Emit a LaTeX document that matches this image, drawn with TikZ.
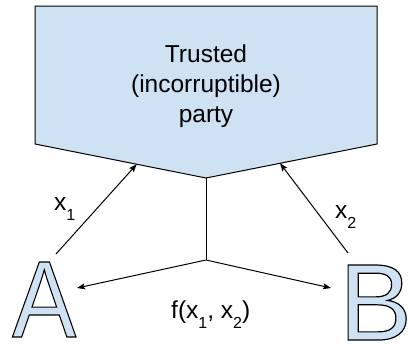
\documentclass[tikz,border=0pt]{standalone}
\usepackage{fontspec}
\setmainfont{Liberation Sans}
\usepackage{graphicx}
\usetikzlibrary{arrows.meta,calc}
\definecolor{partyblue}{HTML}{CFE2F3}
% outlined letters: fill with the current colour, stroke in black
\newcommand{\outlined}[1]{{\color{partyblue}%
  \special{pdf:literal direct 0 G 2 Tr 1.2 w}#1\special{pdf:literal direct 0 Tr}}}
\tikzset{
  link/.style={line width=1pt, draw=black},
  msg/.style={link, -{Stealth[length=8pt,width=6pt,inset=1.5pt]}},
  label/.style={inner sep=0pt, anchor=base west, font=\fontsize{24.5}{30}\selectfont},
  bigletter/.style={inner sep=0pt, anchor=base west, font=\fontsize{109}{109}\selectfont},
}
\newcommand{\lowsub}[1]{\raisebox{-10pt}{\fontsize{16}{16}\selectfont #1}}
\begin{document}
\begin{tikzpicture}[x=1pt, y=-1pt]
  \useasboundingbox (0,0) rectangle (409,343);

  % the trusted party: a pentagon pointing downwards
  \coordinate (tl) at (35,6);
  \coordinate (tr) at (377,6);
  \coordinate (br) at (377,144);
  \coordinate (tip) at (206,178);
  \coordinate (bl) at (35,144);
  \filldraw[fill=partyblue, draw=black, line width=1pt, line join=miter]
    (tl) -- (tr) -- (br) -- (tip) -- (bl) -- cycle;
  \node[align=center, font=\fontsize{24.5}{30}\selectfont, inner sep=0pt] (ttp)
    at (206,86) {Trusted\\(incorruptible)\\party};

  % the two parties
  \node[bigletter] (A) at (12,337) {\scalebox{0.88}[1]{\outlined{A}}};
  \node[bigletter] (B) at (339,340) {\outlined{B}};

  % inputs sent to the trusted party
  \coordinate (aout) at (56,254);
  \coordinate (ain) at ($(bl)!0.595!(tip)$);
  \coordinate (bout) at (348,253);
  \coordinate (bin) at ($(br)!0.567!(tip)$);
  \draw[msg] (aout) -- (ain);
  \draw[msg] (bout) -- (bin);
  \node[label] (x1) at (54,210) {x\lowsub{1}};
  \node[label] (x2) at (335,218) {x\lowsub{2}};

  % output returned to both parties
  \coordinate (hub) at (206,260);
  \coordinate (ares) at (77,288);
  \coordinate (bres) at (331,288);
  \draw[link] (tip) -- (hub);
  \draw[msg] (hub) -- (ares);
  \draw[msg] (hub) -- (bres);
  \node[label] (fx) at (171,318) {f(x\lowsub{1}, x\lowsub{2})};
\end{tikzpicture}
\end{document}
